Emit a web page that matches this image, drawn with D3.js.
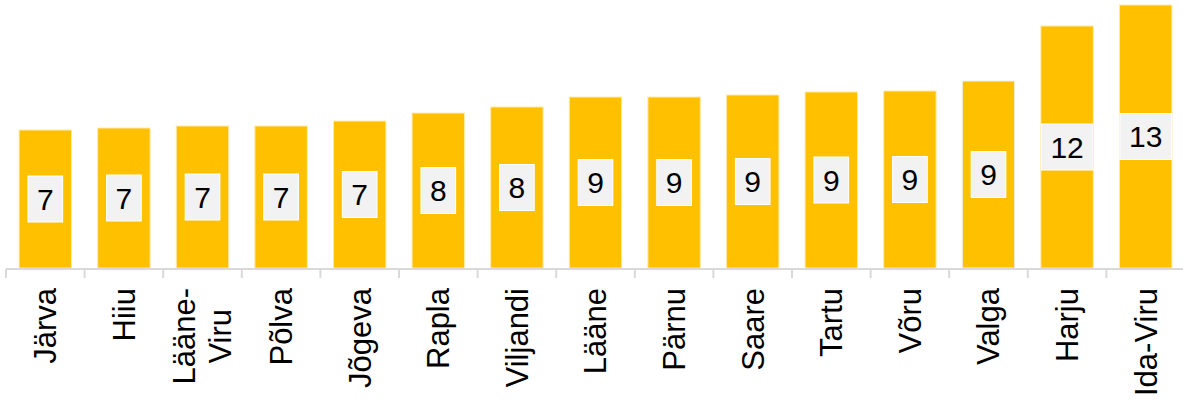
<!DOCTYPE html>
<html>
<head>
<meta charset="utf-8">
<script src="https://cdn.jsdelivr.net/npm/d3@7"></script>
<style>
  body { margin: 0; background: #fff; }
  text { font-family: "Liberation Sans", Arial, sans-serif; fill: #000; }
</style>
</head>
<body>
<div id="chart"></div>
<script>
// Data
const counties = ["Järva", "Hiiu", "Lääne-\nViru", "Põlva", "Jõgeva", "Rapla", "Viljandi", "Lääne",
    "Pärnu", "Saare", "Tartu", "Võru", "Valga", "Harju", "Ida-Viru"];
const values = [6.9, 7.0, 7.1, 7.1, 7.35, 7.75, 8.05, 8.55, 8.55, 8.65, 8.8, 8.85, 9.35, 12.1, 13.15];

const data = counties.map((c, i) => ({ county: c, value: values[i] }));

const width = 1183;
const height = 402;
const baseY = 268;

const svg = d3.select("#chart")
    .append("svg")
    .attr("width", width)
    .attr("height", height);

const xScale = d3.scaleBand()
    .domain(counties)
    .range([6, 1185])
    .padding(0);

const yScale = d3.scaleLinear()
    .domain([0, 13.4])
    .range([baseY, 0]);

const barW = xScale.bandwidth() * 0.667;
const yellow = "#ffc000";

// bars
svg.selectAll("rect.bar")
    .data(data)
    .join("rect")
    .attr("class", "bar")
    .attr("x", d => xScale(d.county) + (xScale.bandwidth() - barW) / 2)
    .attr("y", d => yScale(d.value))
    .attr("width", barW)
    .attr("height", d => yScale(0) - yScale(d.value))
    .attr("fill", yellow)
    .attr("stroke", d => d.county === "Valga" ? "#f0f0f0" : "#ffe9a8")
    .attr("stroke-width", 1);

// value labels
const labels = svg.selectAll("g.vlabel")
    .data(data)
    .join("g")
    .attr("class", "vlabel")
    .attr("transform", d => `translate(${xScale(d.county) + xScale.bandwidth() / 2}, ${(yScale(d.value) + yScale(0)) / 2})`);

labels.each(function (d) {
    const g = d3.select(this);
    const t = g.append("text")
        .attr("text-anchor", "middle")
        .attr("dy", "0.36em")
        .style("font-size", "30px")
        .text(Math.round(d.value));
    const w = t.node().getComputedTextLength();
    const bw = Math.min(w + 18, barW);
    g.insert("rect", "text")
        .attr("x", -bw / 2)
        .attr("y", -23)
        .attr("width", bw)
        .attr("height", 46)
        .attr("fill", "#f2f2f2")
        .attr("stroke", "#ffffff")
        .attr("stroke-width", 1);
});

// x axis
const axis = svg.append("g").attr("class", "axis-x");

axis.append("line")
    .attr("x1", 6)
    .attr("x2", 1185)
    .attr("y1", baseY + 1)
    .attr("y2", baseY + 1)
    .attr("stroke", "#d9d9d9")
    .attr("stroke-width", 2);

const bounds = counties.map(c => xScale(c)).concat([xScale.range()[1]]);
axis.selectAll("line.tick")
    .data(bounds)
    .join("line")
    .attr("class", "tick")
    .attr("x1", d => d)
    .attr("x2", d => d)
    .attr("y1", baseY + 1)
    .attr("y2", baseY + 10)
    .attr("stroke", "#d9d9d9")
    .attr("stroke-width", 2);

// category labels, rotated
axis.selectAll("g.cat")
    .data(counties)
    .join("g")
    .attr("class", "cat")
    .attr("transform", d => `translate(${xScale(d) + xScale.bandwidth() / 2}, 0) rotate(-90)`)
    .each(function (d) {
        const g = d3.select(this);
        const lines = d.split("\n");
        const lineH = 36;
        const texts = lines.map((ln, i) => g.append("text")
            .style("font-size", "31px")
            .attr("text-anchor", "middle")
            .attr("y", (i - (lines.length - 1) / 2) * lineH)
            .attr("dy", "0.35em")
            .text(ln));
        const maxW = d3.max(texts, t => t.node().getComputedTextLength());
        texts.forEach(t => t.attr("x", -(288 + maxW / 2)));
    });
</script>
</body>
</html>
